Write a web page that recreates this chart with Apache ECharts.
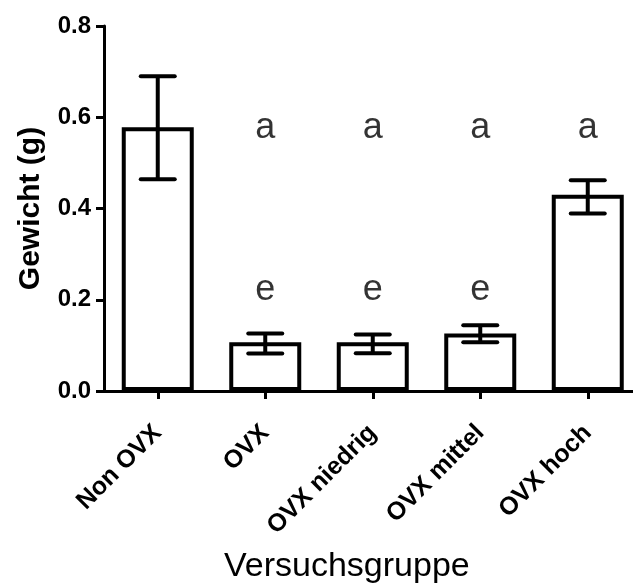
<!DOCTYPE html>
<html><head><meta charset="utf-8">
<script src="https://cdn.jsdelivr.net/npm/echarts@6/dist/echarts.min.js"></script>
<style>html,body{margin:0;padding:0;background:#fff}#c{width:633px;height:588px}</style>
</head><body><div id="c"></div>
<script>
const categories = ['Non OVX', 'OVX', 'OVX niedrig', 'OVX mittel', 'OVX hoch'];
const means = [0.578, 0.107, 0.107, 0.126, 0.430];
const errLow = [0.464, 0.082, 0.083, 0.107, 0.389];
const errHigh = [0.690, 0.126, 0.124, 0.144, 0.462];
const lettersA = ['', 'a', 'a', 'a', 'a'];
const lettersE = ['', 'e', 'e', 'e', ''];
const levelA = 0.576;
const levelE = 0.221;
const yMin = 0, yMax = 0.8, yStep = 0.2;

const FONT = '"Liberation Sans", Arial, Helvetica, sans-serif';
const chart = echarts.init(document.getElementById('c'), null, {renderer: 'canvas'});

function letterData(arr, level) {
  const out = [];
  arr.forEach((t, i) => { if (t) out.push({value: [i, level], label: {formatter: t}}); });
  return out;
}

chart.setOption({
  animation: false,
  backgroundColor: '#fff',
  grid: {left: 104, width: 537.5, top: 26, bottom: 197, containLabel: false, outerBoundsMode: 'none'},
  xAxis: {
    type: 'category',
    data: categories,
    boundaryGap: true,
    axisLine: {lineStyle: {color: '#000', width: 3}},
    axisTick: {show: true, alignWithLabel: true, length: 8, lineStyle: {color: '#000', width: 3}},
    axisLabel: {interval: 0, rotate: 45, margin: 38, color: '#000', fontWeight: 'bold', fontSize: 25, fontFamily: FONT},
    splitLine: {show: false}
  },
  yAxis: {
    type: 'value',
    min: yMin, max: yMax, interval: yStep,
    name: 'Gewicht (g)',
    nameLocation: 'middle',
    nameGap: 58,
    nameRotate: 90,
    nameTextStyle: {color: '#000', fontWeight: 'bold', fontSize: 30, fontFamily: FONT},
    axisLine: {show: true, lineStyle: {color: '#000', width: 3}},
    axisTick: {show: true, length: 8, lineStyle: {color: '#000', width: 3}},
    axisLabel: {margin: 13, color: '#000', fontWeight: 'bold', fontSize: 24, fontFamily: FONT,
      formatter: v => v.toFixed(1)},
    splitLine: {show: false}
  },
  graphic: [{
    type: 'text', left: 224, top: 550,
    style: {text: 'Versuchsgruppe', fill: '#000', font: '34px ' + FONT}
  }],
  series: [
    {
      type: 'bar',
      data: means,
      barWidth: 72,
      itemStyle: {color: '#fff', borderColor: '#000', borderWidth: 4},
      z: 2
    },
    {
      type: 'custom',
      data: categories.map((c, i) => [i, errLow[i], errHigh[i]]),
      renderItem: function (params, api) {
        const x = api.value(0);
        const pLo = api.coord([x, api.value(1)]);
        const pHi = api.coord([x, api.value(2)]);
        const hw = 17;
        const st = {stroke: '#000', lineWidth: 4, lineCap: 'round'};
        return {type: 'group', children: [
          {type: 'line', shape: {x1: pLo[0], y1: pLo[1], x2: pHi[0], y2: pHi[1]}, style: {stroke: '#000', lineWidth: 4}},
          {type: 'line', shape: {x1: pHi[0] - hw, y1: pHi[1], x2: pHi[0] + hw, y2: pHi[1]}, style: st},
          {type: 'line', shape: {x1: pLo[0] - hw, y1: pLo[1], x2: pLo[0] + hw, y2: pLo[1]}, style: st}
        ]};
      },
      z: 3
    },
    {
      type: 'scatter',
      symbolSize: 0,
      data: letterData(lettersA, levelA),
      label: {show: true, position: 'inside', color: '#000', fontSize: 36, fontFamily: FONT},
      z: 4
    },
    {
      type: 'scatter',
      symbolSize: 0,
      data: letterData(lettersE, levelE),
      label: {show: true, position: 'inside', color: '#000', fontSize: 36, fontFamily: FONT},
      z: 4
    }
  ]
});
</script>
</body></html>
